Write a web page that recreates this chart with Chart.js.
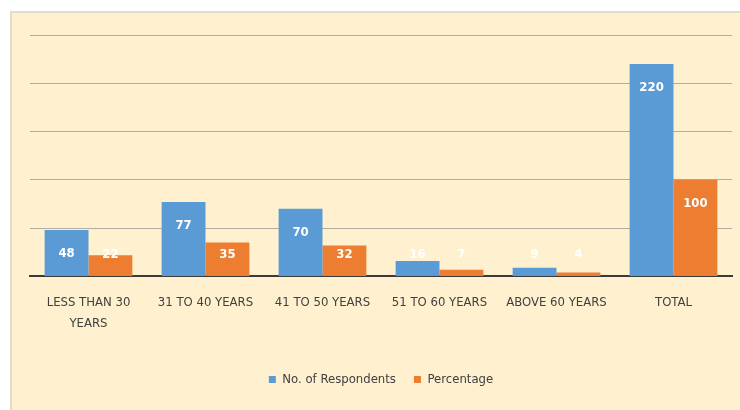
<!DOCTYPE html>
<html>
<head>
<meta charset="utf-8">
<script src="https://cdn.jsdelivr.net/npm/chart.js@4"></script>
<style>
    body { margin: 0; background: #ffffff; }
    #box {
        position: absolute;
        left: 10px; top: 11px;
        width: 730px; height: 399px;
        background: #fff1cf;
        border-left: 2px solid #e2dccb;
        border-top: 2px solid #e2dccb;
        box-sizing: border-box;
    }
</style>
</head>
<body>
<div id="box"><canvas id="chart"></canvas></div>
<script>
let categories = [['LESS THAN 30', 'YEARS'], '31 TO 40 YEARS', '41 TO 50 YEARS', '51 TO 60 YEARS', 'ABOVE 60 YEARS', 'TOTAL'];
let respondents = [48, 77, 70, 16, 9, 220];
let percentage = [22, 35, 32, 7, 4, 100];
let fontName = "'Liberation Sans Narrow', 'DejaVu Sans Condensed', sans-serif";

// white value labels near the top of each bar
let barLabels = {
    id: 'barLabels',
    afterDatasetsDraw(chart) {
        let ctx = chart.ctx;
        let base = chart.scales.y.getPixelForValue(0);
        ctx.save();
        ctx.fillStyle = '#ffffff';
        ctx.font = 'bold 13px ' + fontName;
        ctx.textAlign = 'center';
        ctx.textBaseline = 'middle';
        chart.data.datasets.forEach((ds, i) => {
            chart.getDatasetMeta(i).data.forEach((bar, j) => {
                let y = Math.min(bar.y + 24, base - 22);
                ctx.fillText(ds.data[j], bar.x, y);
            });
        });
        ctx.restore();
    }
};

let chart = new Chart(document.getElementById('chart'), {
    type: 'bar',
    data: {
        labels: categories,
        datasets: [{
            label: 'No. of Respondents',
            data: respondents,
            backgroundColor: '#5b9bd5'
        }, {
            label: 'Percentage',
            data: percentage,
            backgroundColor: '#ed7d31'
        }]
    },
    options: {
        responsive: true,
        maintainAspectRatio: false,
        animation: false,
        categoryPercentage: 0.75,
        barPercentage: 1.0,
        layout: { padding: { left: 18, right: 8, top: 22, bottom: 14 } },
        scales: {
            x: {
                grid: { display: false },
                border: { color: '#3a3a3a', width: 2 },
                ticks: {
                    color: '#404040',
                    font: { family: fontName, size: 13, lineHeight: 1.6 },
                    maxRotation: 0,
                    autoSkip: false,
                    padding: 8
                },
                afterFit(scale) {
                    scale.height += 13; // extra room between labels and legend
                }
            },
            y: {
                min: 0,
                max: 250,
                ticks: { display: false, stepSize: 50 },
                border: { display: false },
                grid: { color: '#b3ad9f', lineWidth: 1, drawTicks: false }
            }
        },
        plugins: {
            legend: {
                position: 'bottom',
                labels: {
                    boxWidth: 7,
                    boxHeight: 7,
                    color: '#404040',
                    font: { family: fontName, size: 13 },
                    padding: 18
                }
            },
            tooltip: { enabled: false }
        }
    },
    plugins: [barLabels]
});
</script>
</body>
</html>
